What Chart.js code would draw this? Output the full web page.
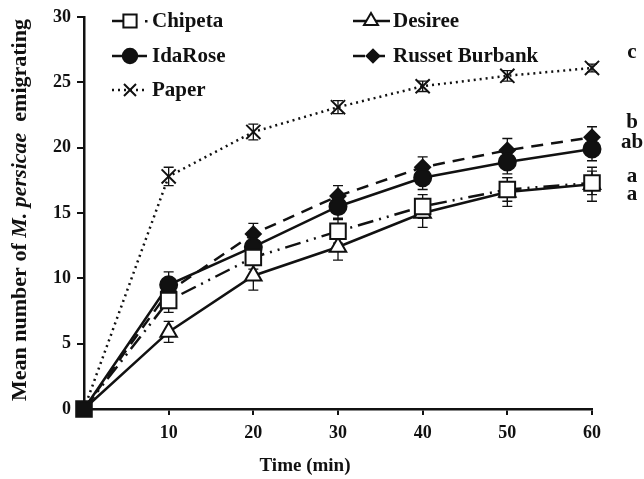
<!DOCTYPE html>
<html>
<head>
<meta charset="utf-8">
<script src="https://cdn.jsdelivr.net/npm/chart.js@4/dist/chart.umd.min.js"></script>
<style>
    html, body { margin: 0; padding: 0; background: #fff; }
    #wrap { width: 644px; height: 479px; }
</style>
</head>
<body>
<div id="wrap"><canvas id="chart" width="644" height="479"></canvas></div>
<script>
// Данные графика (время в минутах)
const times = [0, 10, 20, 30, 40, 50, 60];
const chipeta = [0, 8.3, 11.6, 13.6, 15.5, 16.8, 17.3];
const desiree = [0, 5.9, 10.2, 12.4, 15.0, 16.6, 17.2];
const idaRose = [0, 9.5, 12.4, 15.5, 17.7, 18.9, 19.9];
const russet = [0, 9.0, 13.4, 16.3, 18.5, 19.8, 20.8];
const paper = [0, 17.8, 21.2, 23.1, 24.7, 25.5, 26.1];

// Стандартные ошибки
const chipetaErr = [0, 0.9, 0.9, 0.9, 0.9, 0.9, 0.9];
const desireeErr = [0, 0.8, 1.1, 1.0, 1.1, 1.1, 1.3];
const idaRoseErr = [0, 1.0, 0.9, 0.9, 0.9, 0.9, 0.9];
const russetErr = [0, 0.9, 0.8, 0.8, 0.8, 0.9, 0.8];
const paperErr = [0, 0.7, 0.6, 0.5, 0.4, 0.4, 0.3];

const yTicks = [0, 5, 10, 15, 20, 25, 30];
const xTicks = [10, 20, 30, 40, 50, 60];

// Буквы значимости справа
const sigLetters = ['c', 'b', 'ab', 'a', 'a'];
const sigLevels = [27.3, 21.9, 20.4, 17.8, 16.4];

const FONT = '"Liberation Serif", "Times New Roman", serif';
const INK = '#111';

function toPoints(values) {
    return values.map((v, i) => ({ x: times[i], y: v }));
}

// Радиус точек: в нуле виден только чёрный квадрат
function radii(r, showFirst) {
    return times.map((t, i) => (i === 0 && !showFirst) ? 0 : r);
}

const seriesStyle = [
    { label: 'Chipeta', data: chipeta, err: chipetaErr, pointStyle: 'rect', radius: 11, fill: ['#111', '#fff', '#fff', '#fff', '#fff', '#fff', '#fff'], legendFill: '#fff', dash: [16, 6, 2, 6, 2, 6] },
    { label: 'Desiree', data: desiree, err: desireeErr, pointStyle: 'triangle', radius: 9.5, fill: '#fff', legendFill: '#fff', dash: [] },
    { label: 'IdaRose', data: idaRose, err: idaRoseErr, pointStyle: 'circle', radius: 8.5, fill: '#111', legendFill: '#111', dash: [] },
    { label: 'Russet Burbank', data: russet, err: russetErr, pointStyle: 'rectRot', radius: 7.5, fill: '#111', legendFill: '#111', dash: [12, 8] },
    { label: 'Paper', data: paper, err: paperErr, pointStyle: 'crossRot', radius: 10, fill: '#111', legendFill: '#111', dash: [2, 4] }
];

// Плагин: планки погрешностей
const errorBars = {
    id: 'errorBars',
    beforeDatasetsDraw(chart) {
        const ctx = chart.ctx;
        const ys = chart.scales.y;
        ctx.save();
        ctx.strokeStyle = INK;
        ctx.lineWidth = 1.3;
        chart.data.datasets.forEach((ds, di) => {
            const meta = chart.getDatasetMeta(di);
            meta.data.forEach((pt, i) => {
                const e = ds.err[i];
                if (!e) return;
                const v = ds.data[i].y;
                const top = ys.getPixelForValue(v + e);
                const bot = ys.getPixelForValue(v - e);
                ctx.beginPath();
                ctx.moveTo(pt.x, top); ctx.lineTo(pt.x, bot);
                ctx.moveTo(pt.x - 5, top); ctx.lineTo(pt.x + 5, top);
                ctx.moveTo(pt.x - 5, bot); ctx.lineTo(pt.x + 5, bot);
                ctx.stroke();
            });
        });
        ctx.restore();
    }
};

// Плагин: легенда, подписи осей и буквы
const decorations = {
    id: 'decorations',
    afterDraw(chart) {
        const ctx = chart.ctx;
        const ys = chart.scales.y;
        ctx.save();

        // легенда
        const legendPos = [
            { x1: 112, x2: 147, mx: 130, tx: 152, y: 21 },
            { x1: 353, x2: 390, mx: 371, tx: 393, y: 21 },
            { x1: 112, x2: 147, mx: 130, tx: 152, y: 56 },
            { x1: 353, x2: 390, mx: 373, tx: 393, y: 56 },
            { x1: 112, x2: 147, mx: 130, tx: 152, y: 90 }
        ];
        seriesStyle.forEach((s, i) => {
            const p = legendPos[i];
            ctx.strokeStyle = INK;
            ctx.lineWidth = 2.5;
            ctx.setLineDash(s.label === 'Chipeta' ? [] : s.dash);
            ctx.beginPath();
            if (s.label === 'Chipeta') {
                ctx.moveTo(p.x1, p.y); ctx.lineTo(p.mx, p.y);
                ctx.stroke();
                ctx.fillStyle = INK;
                ctx.fillRect(p.x2 - 2, p.y - 1, 2.5, 2.5);
            } else {
                ctx.moveTo(p.x1, p.y); ctx.lineTo(p.x2, p.y);
                ctx.stroke();
            }
            ctx.setLineDash([]);
            ctx.fillStyle = s.legendFill;
            ctx.strokeStyle = INK;
            ctx.lineWidth = 2;
            Chart.helpers.drawPoint(ctx, {
                pointStyle: s.pointStyle,
                radius: s.radius * 0.85,
                rotation: 0,
                borderWidth: 2
            }, p.mx, p.y);
            ctx.fillStyle = INK;
            ctx.font = 'bold 21px ' + FONT;
            ctx.textAlign = 'left';
            ctx.textBaseline = 'middle';
            ctx.fillText(s.label, p.tx, p.y + 1);
        });

        // буквы значимости
        ctx.font = 'bold 21px ' + FONT;
        ctx.textAlign = 'center';
        ctx.textBaseline = 'middle';
        sigLetters.forEach((t, i) => {
            ctx.fillText(t, 632, ys.getPixelForValue(sigLevels[i]));
        });

        // подпись оси X
        ctx.font = 'bold 19px ' + FONT;
        ctx.fillText('Time (min)', 305, 466);

        // подпись оси Y со смешанным начертанием
        const parts = [
            { t: 'Mean number of ', f: 'bold 22px ' + FONT },
            { t: 'M. persicae', f: 'italic bold 22px ' + FONT },
            { t: '  emigrating', f: 'bold 22px ' + FONT }
        ];
        let total = 0;
        parts.forEach(p => { ctx.font = p.f; p.w = ctx.measureText(p.t).width; total += p.w; });
        ctx.translate(20, 210);
        ctx.rotate(-Math.PI / 2);
        ctx.textAlign = 'left';
        let cx = -total / 2;
        parts.forEach(p => { ctx.font = p.f; ctx.fillText(p.t, cx, 0); cx += p.w; });
        ctx.restore();
    }
};

new Chart(document.getElementById('chart'), {
    type: 'line',
    data: {
        datasets: seriesStyle.map((s, di) => ({
            label: s.label,
            data: toPoints(s.data),
            err: s.err,
            borderColor: INK,
            borderWidth: 2.5,
            borderDash: s.dash,
            pointStyle: s.pointStyle,
            pointRadius: radii(s.radius, di === 0),
            pointHoverRadius: radii(s.radius, di === 0),
            pointBackgroundColor: s.fill,
            pointBorderColor: INK,
            pointBorderWidth: 2,
            tension: 0,
            fill: false,
            clip: false
        }))
    },
    options: {
        responsive: false,
        animation: false,
        layout: { padding: { left: 0, right: 52, top: 17, bottom: 0 } },
        plugins: {
            legend: { display: false },
            tooltip: { enabled: false }
        },
        scales: {
            x: {
                type: 'linear',
                min: 0,
                max: 60,
                afterFit: (scale) => { scale.height = 70; },
                afterBuildTicks: (scale) => { scale.ticks = [0].concat(xTicks).map(v => ({ value: v })); },
                ticks: {
                    color: INK,
                    padding: 8,
                    font: { family: FONT, size: 18, weight: 'bold' },
                    callback: (v) => v === 0 ? '' : v
                },
                grid: { drawOnChartArea: false, drawTicks: true, tickLength: 6, color: INK, lineWidth: 2 },
                border: { color: INK, width: 2.5 }
            },
            y: {
                min: 0,
                max: 30,
                afterFit: (scale) => { scale.width = 84; },
                afterBuildTicks: (scale) => { scale.ticks = yTicks.map(v => ({ value: v })); },
                ticks: {
                    color: INK,
                    padding: 6,
                    font: { family: FONT, size: 18, weight: 'bold' }
                },
                grid: { drawOnChartArea: false, drawTicks: true, tickLength: 7, color: INK, lineWidth: 2 },
                border: { color: INK, width: 2.5 }
            }
        }
    },
    plugins: [errorBars, decorations]
});
</script>
</body>
</html>
